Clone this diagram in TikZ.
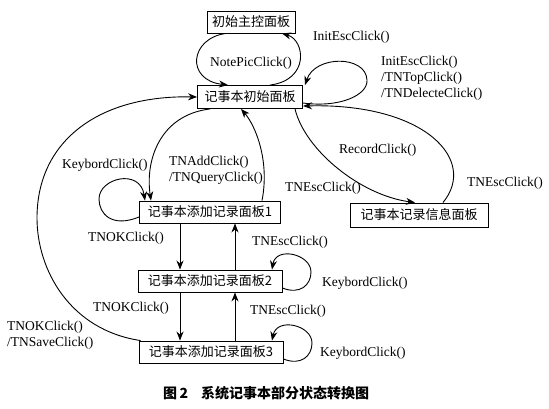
\documentclass[tikz,border=0pt]{standalone}
\usepackage{fontspec}
\setmainfont{Liberation Serif}
\newfontfamily\cjk{Noto Sans CJK SC}
\usetikzlibrary{arrows.meta}
\begin{document}
\begin{tikzpicture}[x=1pt,y=-1pt,
  box/.style={draw,line width=0.9pt,minimum height=22pt,inner xsep=3pt,inner ysep=0pt,font=\cjk\fontsize{13}{13}\selectfont},
  lbl/.style={anchor=west,inner sep=0pt,font=\fontsize{13.5}{16}\selectfont,align=left},
  arr/.style={line width=0.9pt,-{Stealth[length=9pt,width=7pt]}},
  every node/.append style={text=black}]
\useasboundingbox[fill=white] (0,0) rectangle (549,408);

\node[box,minimum width=88pt] (zk) at (251,22) {初始主控面板};
\node[box,minimum width=105pt,minimum height=23pt] (cs) at (250,97) {记事本初始面板};
\node[box,minimum width=141pt] (b1) at (210,212) {记事本添加记录面板1};
\node[box,minimum width=144pt] (b2) at (210,281) {记事本添加记录面板2};
\node[box,minimum width=144pt] (b3) at (211,352) {记事本添加记录面板3};
\node[box,minimum width=138pt,minimum height=24pt] (rec) at (419,215) {记事本记录信息面板};

% labels
\node[lbl] (l1) at (313,37) {InitEscClick()};
\node[lbl,anchor=center] (l2) at (251,63) {NotePicClick()};
\node[lbl] (l3) at (381,78) {InitEscClick()\\/TNTopClick()\\/TNDelecteClick()};
\node[lbl] (l4) at (339,150) {RecordClick()};
\node[lbl] (l5) at (467,183) {TNEscClick()};
\node[lbl] (l6) at (285,188) {TNEscClick()};
\node[lbl] (l7) at (62,165) {KeybordClick()};
\node[lbl] (l8) at (169,170) {TNAddClick()\\/TNQueryClick()};
\node[lbl] (l9) at (88,238) {TNOKClick()};
\node[lbl] (l10) at (252,242) {TNEscClick()};
\node[lbl] (l11) at (322,283) {KeybordClick()};
\node[lbl] (l12) at (93,308) {TNOKClick()};
\node[lbl] (l13) at (250,311) {TNEscClick()};
\node[lbl] (l14) at (320,353) {KeybordClick()};
\node[lbl] (l15) at (7,335) {TNOKClick()\\/TNSaveClick()};

\node[anchor=west,inner sep=0pt,font=\cjk\bfseries\fontsize{14}{14}\selectfont] (cap) at (163,393) {图\,2\hspace{13pt}系统记事本部分状态转换图};

% NotePicClick / InitEscClick ellipse
\draw[arr] ([xshift=-25pt]zk.south) .. controls (190,38) and (185,80) .. ([xshift=-22pt]cs.north);
\draw[arr] ([xshift=20pt]cs.north) .. controls (310,80) and (305,40) .. ([xshift=31pt]zk.south);

% self loop on cs
\draw[arr] ([yshift=-6pt]cs.east) .. controls (340,108) and (368,95) .. (367,80)
   .. controls (366,55) and (315,55) .. ([xshift=55pt]cs.north);

% rec -> cs (TNEscClick)
\draw[arr] ([xshift=24pt]rec.north) .. controls (478,160) and (425,103) .. ([yshift=-9pt]cs.east);
% cs -> rec (RecordClick)
\draw[arr] ([xshift=45pt]cs.south) .. controls (305,150) and (360,195) .. ([xshift=-4pt]rec.north);

% cs -> b1 (TNAdd)
\draw[arr] ([xshift=-40pt]cs.south) .. controls (160,115) and (145,160) .. ([xshift=-59pt]b1.north);
% b1 -> cs (TNEsc)
\draw[arr] ([xshift=52pt]b1.north) .. controls (270,160) and (255,125) .. ([xshift=-9pt]cs.south);

% keybord loop b1
\draw[arr] ([yshift=-5pt]b1.west) .. controls (112,228) and (99,214) .. (99,199)
   .. controls (99,178) and (140,168) .. ([xshift=-65pt]b1.north);

% big left arc b3 -> cs
\draw[arr] ([xshift=2pt]b3.north west) .. controls (70,330) and (37,270) .. (37,218)
   .. controls (37,140) and (100,95) .. (cs.west);

% vertical arrows
\draw[arr] ([xshift=-30pt]b1.south) -- ([xshift=-30pt]b2.north);
\draw[arr] ([xshift=25pt]b2.north) -- ([xshift=25pt]b1.south);
\draw[arr] ([xshift=-30pt]b2.south) -- ([xshift=-31pt]b3.north);
\draw[arr] ([xshift=24pt]b3.north) -- ([xshift=25pt]b2.south);

% keybord loops b2, b3
\draw[arr] ([yshift=-7pt]b2.east) .. controls (300,295) and (311,285) .. (311,272)
   .. controls (311,254) and (276,246) .. ([xshift=62pt]b2.north);
\draw[arr] ([yshift=-7pt]b3.east) .. controls (301,366) and (312,356) .. (312,343)
   .. controls (312,325) and (277,317) .. ([xshift=61pt]b3.north);
\end{tikzpicture}
\end{document}
